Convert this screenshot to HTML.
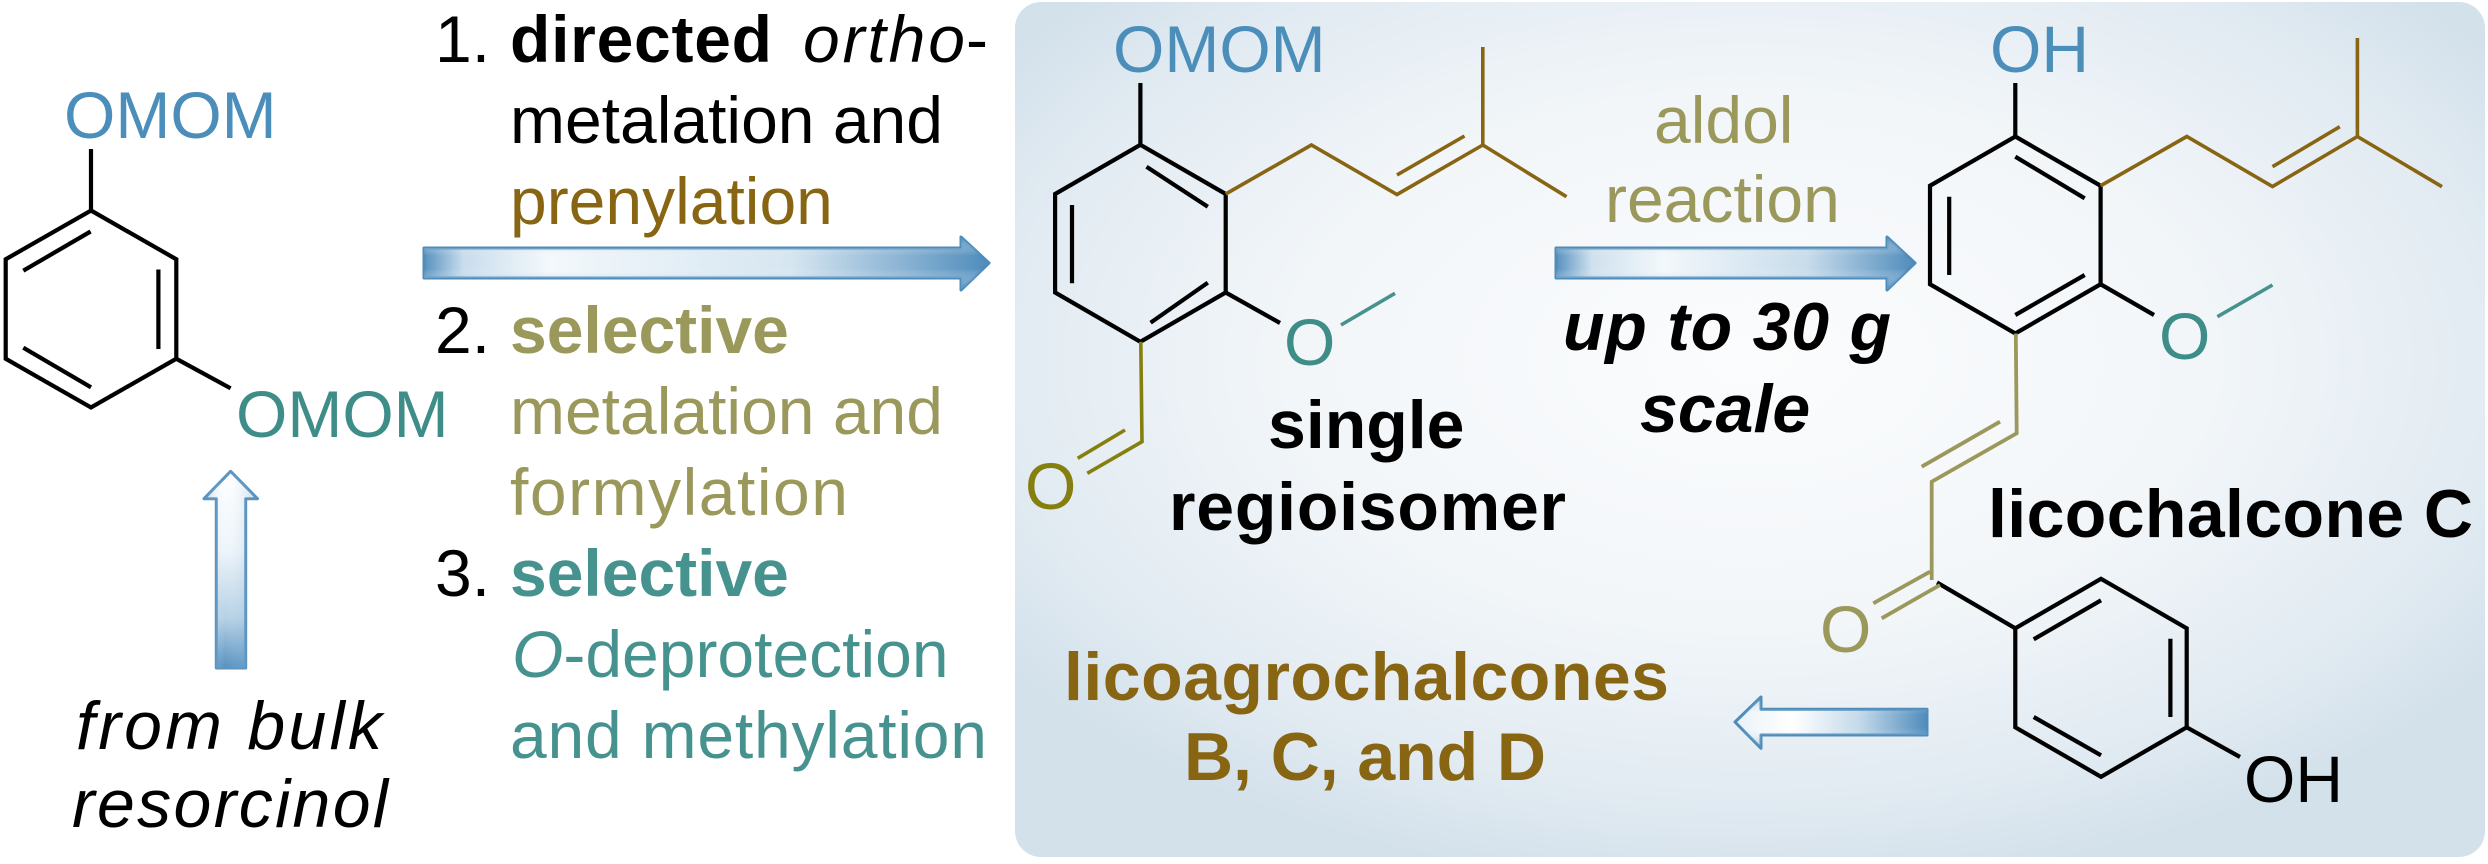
<!DOCTYPE html>
<html>
<head>
<meta charset="utf-8">
<style>
html,body{margin:0;padding:0;background:#fff;}
body{width:2488px;height:864px;overflow:hidden;}
svg{display:block;}
</style>
</head>
<body>
<svg width="2488" height="864" viewBox="0 0 2488 864" xmlns="http://www.w3.org/2000/svg" font-family="'Liberation Sans', Arial, sans-serif">
<defs>
  <radialGradient id="pg" cx="0.5" cy="0.42" r="0.62">
    <stop offset="0" stop-color="#fbfcfd"/>
    <stop offset="0.5" stop-color="#f2f6f9"/>
    <stop offset="0.82" stop-color="#e2ebf2"/>
    <stop offset="1" stop-color="#d3e1eb"/>
  </radialGradient>
  <linearGradient id="ahx" x1="0" y1="0" x2="1" y2="0">
    <stop offset="0" stop-color="#5791bf"/>
    <stop offset="0.07" stop-color="#c9dded"/>
    <stop offset="0.22" stop-color="#f3f8fb"/>
    <stop offset="0.65" stop-color="#d6e6f1"/>
    <stop offset="1" stop-color="#4f8cbc"/>
  </linearGradient>
  <linearGradient id="ahx2" x1="0" y1="0" x2="1" y2="0">
    <stop offset="0" stop-color="#5791bf"/>
    <stop offset="0.1" stop-color="#cfe1ee"/>
    <stop offset="0.3" stop-color="#f3f8fb"/>
    <stop offset="0.7" stop-color="#c8dceb"/>
    <stop offset="1" stop-color="#4f8cbc"/>
  </linearGradient>
  <linearGradient id="avy" x1="0" y1="0" x2="0" y2="1">
    <stop offset="0" stop-color="#4f8cbc" stop-opacity="0.75"/>
    <stop offset="0.35" stop-color="#ffffff" stop-opacity="0"/>
    <stop offset="0.6" stop-color="#ffffff" stop-opacity="0"/>
    <stop offset="1" stop-color="#4f8cbc" stop-opacity="0.75"/>
  </linearGradient>
  <linearGradient id="al" x1="0" y1="0" x2="1" y2="0">
    <stop offset="0" stop-color="#e9f2f8"/>
    <stop offset="0.3" stop-color="#ffffff"/>
    <stop offset="0.65" stop-color="#c3d9ea"/>
    <stop offset="1" stop-color="#4f8cbc"/>
  </linearGradient>
  <linearGradient id="au" x1="0" y1="0" x2="0" y2="1">
    <stop offset="0" stop-color="#ffffff"/>
    <stop offset="0.4" stop-color="#eef5fa"/>
    <stop offset="0.75" stop-color="#b5d0e5"/>
    <stop offset="1" stop-color="#5591c0"/>
  </linearGradient>
  <linearGradient id="aux" x1="0" y1="0" x2="1" y2="0">
    <stop offset="0" stop-color="#4f8cbc" stop-opacity="0.35"/>
    <stop offset="0.4" stop-color="#ffffff" stop-opacity="0"/>
    <stop offset="1" stop-color="#4f8cbc" stop-opacity="0.3"/>
  </linearGradient>
</defs>

<!-- panel -->
<rect x="1015" y="2" width="1470" height="855" rx="26" ry="26" fill="url(#pg)"/>

<!-- ========== LEFT MOLECULE ========== -->
<g stroke="#000" stroke-width="4.2" fill="none" stroke-linecap="butt">
  <polygon points="91,210.5 176.3,259.25 176.3,358.75 91,407.5 5.7,358.75 5.7,259.25" stroke-linejoin="miter"/>
  <line x1="91" y1="149" x2="91" y2="210.5"/>
  <line x1="23.3" y1="270.7" x2="90.6" y2="231.5"/>
  <line x1="158.4" y1="269.5" x2="158.4" y2="349"/>
  <line x1="23.3" y1="347.7" x2="91" y2="387.3"/>
  <line x1="176.3" y1="358.75" x2="230.6" y2="388.3"/>
</g>
<text x="64" y="138" font-size="66" fill="#4b8eba">OMOM</text>
<text x="236" y="437" font-size="66" fill="#3f8d88">OMOM</text>

<!-- vertical arrow -->
<path d="M216.3,668 V498.7 H204 L230.6,471.3 L257.5,498.7 H245.7 V668 Z" fill="url(#au)" stroke="#5a93c0" stroke-width="3" stroke-linejoin="round"/>
<path d="M216.3,668 V498.7 H204 L230.6,471.3 L257.5,498.7 H245.7 V668 Z" fill="url(#aux)" stroke="none"/>

<text x="76" y="749" font-size="68" font-style="italic" textLength="306" lengthAdjust="spacing">from bulk</text>
<text x="72" y="827" font-size="68" font-style="italic" textLength="316" lengthAdjust="spacing">resorcinol</text>

<!-- ========== STEP TEXT ========== -->
<g font-size="66">
  <text y="62"><tspan x="435" fill="#000">1.</tspan><tspan x="510" font-weight="bold" fill="#000" textLength="262" lengthAdjust="spacing">directed</tspan><tspan x="803" font-style="italic" fill="#000" textLength="162" lengthAdjust="spacing">ortho</tspan><tspan x="966" fill="#000">-</tspan></text>
  <text x="510" y="143" fill="#000">metalation and</text>
  <text x="510" y="224" fill="#876513">prenylation</text>

  <text y="353"><tspan x="435" fill="#000">2.</tspan><tspan x="510" font-weight="bold" fill="#9a985a">selective</tspan></text>
  <text x="510" y="434" fill="#9a985a">metalation and</text>
  <text x="510" y="515" fill="#9a985a" textLength="338" lengthAdjust="spacing">formylation</text>

  <text y="596"><tspan x="435" fill="#000">3.</tspan><tspan x="510" font-weight="bold" fill="#46928f">selective</tspan></text>
  <text y="677" fill="#46928f"><tspan x="512" font-style="italic">O</tspan><tspan>-deprotection</tspan></text>
  <text x="510" y="758" fill="#46928f" textLength="477" lengthAdjust="spacing">and methylation</text>
</g>

<!-- arrow 1 -->
<path d="M424,248 H961 V237 L989,263 L961,290 V278 H424 Z" fill="url(#ahx)" stroke="#4f8cba" stroke-width="3" stroke-linejoin="round"/>
<path d="M424,248 H961 V237 L989,263 L961,290 V278 H424 Z" fill="url(#avy)" stroke="none"/>

<!-- ========== MIDDLE MOLECULE ========== -->
<g stroke="#000" stroke-width="4.2" fill="none">
  <polygon points="1140.4,144.8 1225.7,194 1225.7,292.5 1140.4,341.8 1055.1,292.5 1055.1,194" stroke-linejoin="miter"/>
  <line x1="1140.4" y1="83" x2="1140.4" y2="144.8"/>
  <line x1="1146.5" y1="166.7" x2="1207.8" y2="206.7"/>
  <line x1="1072" y1="205" x2="1072" y2="283.3"/>
  <line x1="1207.8" y1="282.7" x2="1150.6" y2="322.7"/>
  <line x1="1225.7" y1="292.5" x2="1280" y2="323"/>
</g>
<g stroke="#876513" stroke-width="3.6" fill="none" stroke-linejoin="miter">
  <polyline points="1225.7,194 1311.4,145 1397,194.5 1482.8,145"/>
  <line x1="1482.8" y1="145" x2="1482.8" y2="47"/>
  <line x1="1482.8" y1="145" x2="1566.5" y2="196.7"/>
  <line x1="1397" y1="175" x2="1464.5" y2="136"/>
</g>
<line x1="1341" y1="325" x2="1395" y2="293.3" stroke="#46928f" stroke-width="3.6"/>
<g stroke="#857f10" stroke-width="3.6" fill="none">
  <polyline points="1140.8,341.8 1142,441.7 1087.3,473.3"/>
  <line x1="1125" y1="430" x2="1077.7" y2="458.3"/>
</g>
<text x="1113" y="72" font-size="66" fill="#4b8eba">OMOM</text>
<text x="1284" y="365" font-size="66" fill="#3f8d88">O</text>
<text x="1025" y="509" font-size="66" fill="#857f10">O</text>

<text x="1268" y="448" font-size="68" font-weight="bold" fill="#000">single</text>
<text x="1169" y="530" font-size="68" font-weight="bold" fill="#000" textLength="397" lengthAdjust="spacing">regioisomer</text>

<text x="1654" y="143" font-size="66" fill="#9a985a">aldol</text>
<text x="1605" y="222" font-size="66" fill="#9a985a">reaction</text>

<!-- arrow 2 -->
<path d="M1556,248 H1887 V237 L1915,263 L1887,290 V278 H1556 Z" fill="url(#ahx2)" stroke="#4f8cba" stroke-width="3" stroke-linejoin="round"/>
<path d="M1556,248 H1887 V237 L1915,263 L1887,290 V278 H1556 Z" fill="url(#avy)" stroke="none"/>

<text x="1563" y="350" font-size="68" font-weight="bold" font-style="italic" fill="#000" textLength="328" lengthAdjust="spacing">up to 30 g</text>
<text x="1640" y="432" font-size="68" font-weight="bold" font-style="italic" fill="#000">scale</text>

<!-- ========== RIGHT MOLECULE ========== -->
<g stroke="#000" stroke-width="4.2" fill="none">
  <polygon points="2015.3,136.5 2100.6,185.75 2100.6,284.25 2015.3,333.5 1930,284.25 1930,185.75" stroke-linejoin="miter"/>
  <line x1="2015.3" y1="83" x2="2015.3" y2="136.5"/>
  <line x1="2015.3" y1="156.7" x2="2084.7" y2="198.3"/>
  <line x1="1949.2" y1="196.7" x2="1949.2" y2="275"/>
  <line x1="2084.7" y1="275" x2="2015.3" y2="315"/>
  <line x1="2100.6" y1="284.25" x2="2154" y2="315"/>
  <!-- phenyl -->
  <polygon points="2101,578.8 2186.7,628.3 2186.7,727.3 2101,776.8 2015.3,727.3 2015.3,628.3" stroke-linejoin="miter"/>
  <line x1="2033.7" y1="639.3" x2="2101" y2="600.3"/>
  <line x1="2170.4" y1="638.7" x2="2170.4" y2="717"/>
  <line x1="2033.7" y1="717" x2="2101" y2="755.3"/>
  <line x1="2186.7" y1="727.3" x2="2240" y2="757"/>
  <line x1="1937" y1="582.5" x2="2015.3" y2="628.3"/>
</g>
<g stroke="#876513" stroke-width="3.6" fill="none" stroke-linejoin="miter">
  <polyline points="2100.6,185.75 2186.8,136.5 2272.5,186.5 2357.4,136.5"/>
  <line x1="2357.4" y1="136.5" x2="2357.4" y2="38"/>
  <line x1="2357.4" y1="136.5" x2="2442" y2="186.7"/>
  <line x1="2272.5" y1="166.7" x2="2339.8" y2="126.7"/>
</g>
<line x1="2217.4" y1="316.7" x2="2272.5" y2="285" stroke="#46928f" stroke-width="3.6"/>
<g stroke="#9a985a" stroke-width="3.8" fill="none" stroke-linejoin="miter">
  <polyline points="2015.8,333.5 2016.7,433.3 1931.7,481.7 1931.7,580"/>
  <line x1="2000" y1="421.7" x2="1921.7" y2="466.7"/>
  <line x1="1930" y1="571.7" x2="1873.3" y2="603.3"/>
  <line x1="1940" y1="585" x2="1881.7" y2="618.3"/>
</g>
<text x="1990" y="72" font-size="66" fill="#4b8eba">OH</text>
<text x="2159" y="359" font-size="66" fill="#3f8d88">O</text>
<text x="1820" y="652" font-size="66" fill="#9a985a">O</text>
<text x="2244" y="802" font-size="66" fill="#000">OH</text>

<text x="1988" y="537" font-size="68" font-weight="bold" fill="#000" textLength="485" lengthAdjust="spacing">licochalcone C</text>

<text x="1064" y="700" font-size="68" font-weight="bold" fill="#876513" textLength="605" lengthAdjust="spacing">licoagrochalcones</text>
<text x="1184" y="780" font-size="68" font-weight="bold" fill="#876513" textLength="362" lengthAdjust="spacing">B, C, and D</text>

<!-- arrow 3 (left) -->
<path d="M1927,709.3 H1761 V697 L1735,722 L1761,748.3 V735 H1927 Z" fill="url(#al)" stroke="#4f8cba" stroke-width="3" stroke-linejoin="round"/>
<path d="M1927,709.3 H1761 V697 L1735,722 L1761,748.3 V735 H1927 Z" fill="url(#avy)" opacity="0.6" stroke="none"/>
</svg>
</body>
</html>
